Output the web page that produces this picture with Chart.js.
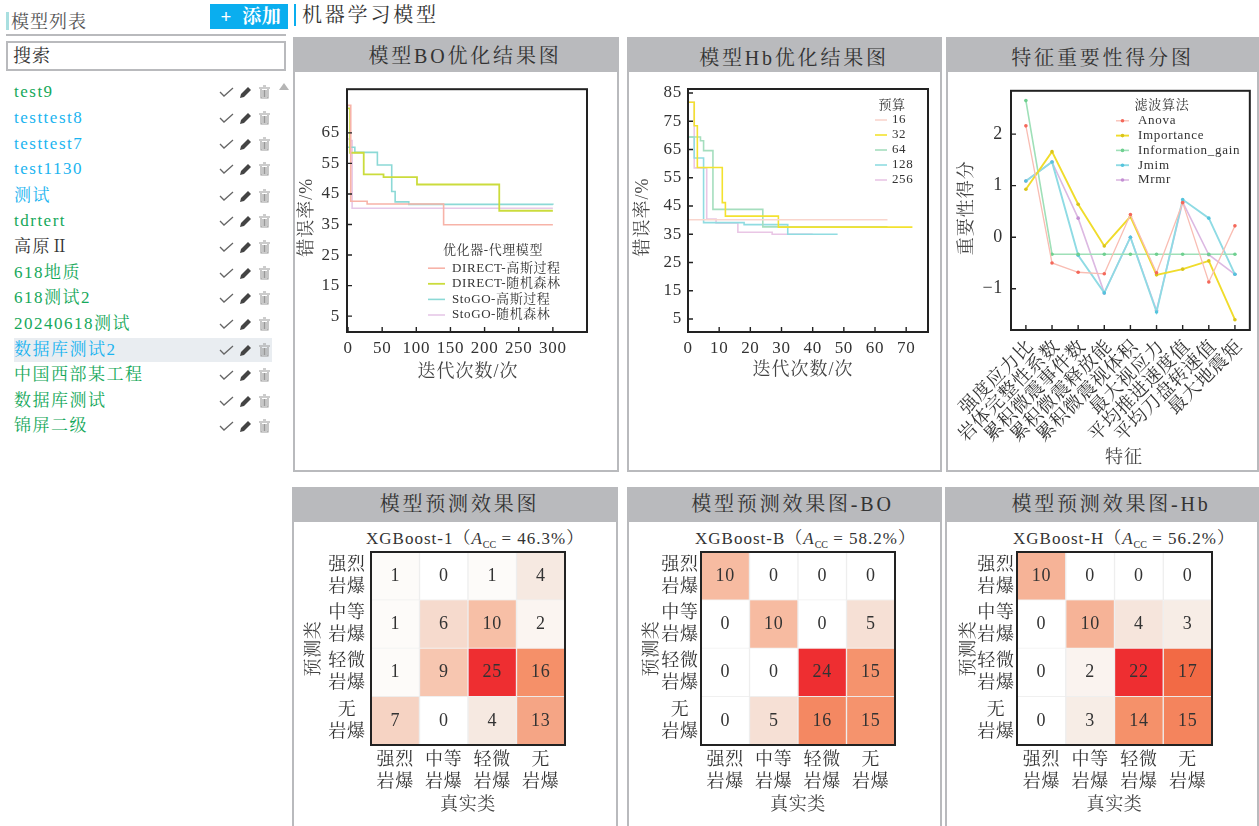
<!DOCTYPE html>
<html>
<head>
<meta charset="utf-8">
<title>机器学习模型</title>
<script src="https://cdn.jsdelivr.net/npm/chart.js@4"></script>
<style>
html,body{margin:0;padding:0;background:#fff;overflow:hidden}
body{width:1259px;height:826px;position:relative;font-family:"Liberation Serif","Noto Serif CJK SC","Noto Sans CJK SC",serif;color:#333}
.abs{position:absolute}
canvas{position:absolute;display:block}
.panel{position:absolute;box-sizing:border-box;border:2px solid #b9babd;background:#fff}
.panel .head{position:absolute;left:0;right:0;top:0;height:33px;background:#b9babd;text-align:center;font-size:20px;line-height:35px;letter-spacing:2.8px;color:#333}
.row{position:absolute;left:14px;width:258px;height:24px;font-size:17px;line-height:24px;letter-spacing:1.5px}
.row svg{position:absolute;top:5px}
.cm{position:absolute;text-align:center;font-size:17px;letter-spacing:1px;line-height:20px;white-space:nowrap}
.cm i{font-style:italic}
.cm sub{font-size:10px;line-height:0;letter-spacing:0}
</style>
</head>
<body>

<div class="abs" style="left:6px;top:12px;width:3px;height:18px;background:#a9dfe0"></div>
<div class="abs" style="left:11px;top:10px;font-size:18px;line-height:24px;letter-spacing:1px;color:#555">模型列表</div>
<div class="abs" style="left:6px;top:34px;width:280px;height:2px;background:#b9babd"></div>
<div class="abs" style="left:210px;top:4px;width:78px;height:25px;background:#0aaeef;color:#fff;font-size:19px;line-height:25px;font-weight:bold;white-space:pre;letter-spacing:.5px">  +  添加</div>
<div class="abs" style="left:294px;top:4px;width:2px;height:22px;background:#0aaeef"></div>
<div class="abs" style="left:302px;top:2px;font-size:20px;line-height:26px;letter-spacing:2.8px">机器学习模型</div>
<div class="abs" style="left:6px;top:41px;width:271px;height:26px;border:2px solid #b9babd;font-size:18px;line-height:27px;padding-left:5px;letter-spacing:1px">搜索</div>
<div id="list"></div>
<div class="abs" style="left:279px;top:83px;width:0;height:0;border-left:5px solid transparent;border-right:5px solid transparent;border-bottom:7px solid #b5b5b5"></div>

<div class="panel" style="left:293px;top:37px;width:326px;height:435px"><div class="head" style="text-indent:18px">模型BO优化结果图</div></div>
<div class="panel" style="left:627px;top:37px;width:315px;height:435px"><div class="head" style="text-indent:19px;line-height:38px">模型Hb优化结果图</div></div>
<div class="panel" style="left:946px;top:37px;width:313px;height:435px"><div class="head" style="line-height:38px">特征重要性得分图</div></div>
<div class="panel" style="left:292px;top:487px;width:326px;height:345px"><div class="head" style="text-indent:9px;line-height:31px">模型预测效果图</div></div>
<div class="panel" style="left:627px;top:487px;width:315px;height:345px"><div class="head" style="text-indent:16px;line-height:31px">模型预测效果图-BO</div></div>
<div class="panel" style="left:945px;top:487px;width:314px;height:345px"><div class="head" style="text-indent:18px;line-height:31px">模型预测效果图-Hb</div></div>

<div class="cm" style="left:366px;top:529px;width:206px">XGBoost-1（<i>A</i><sub>CC</sub> = 46.3%）</div>
<div class="cm" style="left:695px;top:529px;width:210px">XGBoost-B（<i>A</i><sub>CC</sub> = 58.2%）</div>
<div class="cm" style="left:1013px;top:529px;width:212px">XGBoost-H（<i>A</i><sub>CC</sub> = 56.2%）</div>

<canvas id="boChart" style="left:295px;top:72px" width="322" height="398"></canvas>
<canvas id="hbChart" style="left:630px;top:72px" width="310" height="398"></canvas>
<canvas id="featChart" style="left:950px;top:72px" width="307" height="398"></canvas>
<canvas id="cmBase" style="left:295px;top:522px" width="322" height="304"></canvas>
<canvas id="cmBo" style="left:629px;top:522px" width="312" height="304"></canvas>
<canvas id="cmHb" style="left:947px;top:522px" width="311" height="304"></canvas>

<script>
// sidebar
var modelNames = ["test9","testtest8","testtest7","test1130","测试","tdrtert","高原Ⅱ","618地质","618测试2","20240618测试","数据库测试2","中国西部某工程","数据库测试","锦屏二级"];
var modelState = ["g","b","b","b","b","g","k","g","g","g","b","g","g","g"];

// BO chart
var boXTicks = [0,50,100,150,200,250,300];
var boYTicks = [5,15,25,35,45,55,65];
var boDirectGp = [[0,74],[4,42.6],[28,41.7],[140,34.9],[300,34.9]];
var boDirectRf = [[0,73],[3,58.5],[23,51.4],[52,50.5],[101,48.1],[221.5,39.5],[300,39.5]];
var boStogoGp = [[0,60.3],[10,58.6],[43,54.5],[64,45.8],[69,42.4],[89,41.6],[300,41.5]];
var boStogoRf = [[0,63],[3,62.5],[6,40.3],[300,40.3]];

// Hb chart
var hbXTicks = [0,10,20,30,40,50,60,70];
var hbYTicks = [5,15,25,35,45,55,65,75,85];
var hb16 = [[0,40.1],[64,40.1]];
var hb32 = [[0,81.7],[2,73.4],[3,58.6],[11,46.2],[12,41.4],[29,37.5],[72,37.5]];
var hb64 = [[0,69.4],[4,68.1],[5,64.6],[8,43.8],[24,37.6],[64,37.6]];
var hb128 = [[0,69.4],[2,62],[5,39.1],[18,38.4],[32,35],[48,35]];
var hb256 = [[0,81.7],[2,58.5],[6,40.4],[9,39],[16,35.7],[27,35],[40,35]];

// feature importance
var featNames = ["强度应力比","岩体完整性系数","累积微震事件数","累积微震释放能","累积微震视体积","最大视应力","平均推进速度值","平均刀盘转速值","最大地震矩"];
var featXTicks = [0,1,2,3,4,5,6,7,8];
var featYTicks = [-1,0,1,2];
var anova = [2.16,-0.5,-0.68,-0.71,0.44,-0.69,0.67,-0.87,0.22];
var importance = [0.93,1.66,0.64,-0.17,0.4,-0.73,-0.62,-0.46,-1.6];
var infoGain = [2.65,-0.33,-0.33,-0.33,-0.33,-0.33,-0.33,-0.33,-0.33];
var jmim = [1.09,1.46,-0.35,-1.08,0,-1.45,0.73,0.37,-0.72];
var mrmr = [1.09,1.46,0.37,-1.08,0,-1.42,0.68,-0.34,-0.72];

// confusion matrices
var rockLabels = [["强烈","岩爆"],["中等","岩爆"],["轻微","岩爆"],["无","岩爆"]];
var cmBaseVals = [[1,0,1,4],[1,6,10,2],[1,9,25,16],[7,0,4,13]];
var cmBoVals = [[10,0,0,0],[0,10,0,5],[0,0,24,15],[0,5,16,15]];
var cmHbVals = [[10,0,0,0],[0,10,4,3],[0,2,22,17],[0,3,14,15]];

var FONT = '"Liberation Serif","Noto Serif CJK SC","Noto Sans CJK SC",serif';
var INK = "#333";
var stops = [[0,"#ffffff"],[0.04,"#fdfbf9"],[0.16,"#f6e9e1"],[0.28,"#f6d3c3"],[0.4,"#f7bfa6"],[0.52,"#f5a585"],[0.64,"#f59069"],[0.77,"#f26b45"],[1,"#ee2e31"]];

function hex(c,i){ return parseInt(c.substr(i,2),16); }
function heatColor(t){
  for(var i=1;i<stops.length;i++){
    if(t<=stops[i][0]){
      var a=stops[i-1], b=stops[i], f=(t-a[0])/(b[0]-a[0]);
      var ch=[1,3,5].map(function(k){ return Math.round(hex(a[1],k)+(hex(b[1],k)-hex(a[1],k))*f); });
      return "rgb("+ch.join(",")+")";
    }
  }
  return stops[stops.length-1][1];
}

// box round the plot, ticks pointing inward, and axis titles placed by hand
var framePlugin = {
  id:"frame",
  beforeDraw:function(chart){
    chart.ctx.letterSpacing="0.7px";
  },
  afterDatasetsDraw:function(chart){
    var c=chart.ctx, a=chart.chartArea, o=chart.options.plugins.frame;
    c.save();
    c.strokeStyle="#222"; c.lineWidth=2;
    c.strokeRect(a.left,a.top,a.right-a.left,a.bottom-a.top);
    if(!o.noTicks){
      c.lineWidth=1.4;
      c.beginPath();
      chart.scales.x.ticks.forEach(function(t,i){
        var x=chart.scales.x.getPixelForTick(i);
        c.moveTo(x,a.bottom); c.lineTo(x,a.bottom-5);
      });
      chart.scales.y.ticks.forEach(function(t,i){
        var y=chart.scales.y.getPixelForTick(i);
        c.moveTo(a.left,y); c.lineTo(a.left+5,y);
      });
      c.stroke();
    }
    (o.titles||[]).forEach(function(t){
      c.save();
      c.font="18px "+FONT; c.letterSpacing="1px"; c.fillStyle="#444";
      c.textAlign="center"; c.textBaseline="middle";
      c.translate(a.left+t.x,a.top+t.y);
      if(t.up) c.rotate(-Math.PI/2);
      c.fillText(t.text,0,0);
      c.restore();
    });
    c.restore();
  }
};

// legend sits inside the plot
var insideLegend = {
  id:"insideLegend",
  afterDatasetsDraw:function(chart){
    var o=chart.options.plugins.insideLegend;
    if(!o || !o.title) return;
    var c=chart.ctx, a=chart.chartArea;
    c.save();
    c.font="13px "+FONT;
    c.letterSpacing=o.spacing+"px";
    c.fillStyle=INK;
    c.textBaseline="middle";
    c.textAlign="center";
    c.fillText(o.title,a.left+o.titleX,a.top+o.titleY);
    c.textAlign="left";
    chart.data.datasets.forEach(function(d,i){
      var y=a.top+o.rowY+i*o.rowGap;
      c.strokeStyle=d.borderColor; c.lineWidth=d.borderWidth;
      c.beginPath(); c.moveTo(a.left+o.lineX,y); c.lineTo(a.left+o.lineX+o.lineW,y); c.stroke();
      if(o.dots){
        c.fillStyle=d.pointBackgroundColor;
        c.beginPath(); c.arc(a.left+o.lineX+o.lineW/2,y,1.8,0,Math.PI*2); c.fill();
      }
      c.fillStyle=INK;
      c.fillText(d.label,a.left+o.textX,y);
    });
    c.restore();
  }
};

// numbers inside the heat cells
var cellValues = {
  id:"cellValues",
  afterDatasetsDraw:function(chart){
    var vals=chart.options.plugins.cellValues.vals;
    if(!vals) return;
    var c=chart.ctx;
    c.save();
    c.font="18px "+FONT; c.fillStyle=INK;
    c.textAlign="center"; c.textBaseline="middle";
    chart.data.datasets.forEach(function(d,r){
      chart.getDatasetMeta(r).data.forEach(function(bar,k){
        var p=bar.getCenterPoint();
        c.fillText(String(vals[r][k]),p.x,p.y);
      });
    });
    c.restore();
  }
};

Chart.register(framePlugin,insideLegend,cellValues);
Chart.defaults.animation=false;
Chart.defaults.responsive=false;
Chart.defaults.events=[];
Chart.defaults.color=INK;
Chart.defaults.font.family=FONT;

function setTicks(list){
  return function(scale){ scale.ticks=list.map(function(v){ return {value:v}; }); };
}
function fixW(w){ return function(s){ s.width=w; }; }
function fixH(h){ return function(s){ s.height=h; }; }
function stepSet(label,data,color,w){
  return {label:label,data:data,borderColor:color,borderWidth:w||1.6,stepped:true,pointRadius:0,fill:false};
}
var noGrid={display:false,drawTicks:false};

function stepOptions(cfg){
  return {
    layout:{padding:cfg.pad},
    plugins:{legend:{display:false},tooltip:{enabled:false},frame:{titles:cfg.titles},insideLegend:cfg.legend,cellValues:{}},
    scales:{
      x:{type:"linear",min:cfg.xMin,max:cfg.xMax,afterFit:fixH(50),afterBuildTicks:setTicks(cfg.xTicks),
        grid:noGrid,border:{display:false},
        ticks:{autoSkip:false,maxRotation:0,padding:6,font:{size:17}}},
      y:{type:"linear",min:cfg.yMin,max:cfg.yMax,afterFit:fixW(cfg.yW),afterBuildTicks:setTicks(cfg.yTicks),
        grid:noGrid,border:{display:false},
        ticks:{autoSkip:false,padding:cfg.tickPad,font:{size:17}}}
    }
  };
}

new Chart(document.getElementById("boChart"),{
  type:"line",
  data:{datasets:[
    stepSet("DIRECT-高斯过程",boDirectGp,"#f7b3a8"),
    stepSet("DIRECT-随机森林",boDirectRf,"#cbdc3c",1.8),
    stepSet("StoGO-高斯过程",boStogoGp,"#8cd9d6"),
    stepSet("StoGO-随机森林",boStogoRf,"#e6c8e8")
  ]},
  options:stepOptions({
    pad:{left:0,right:30,top:16,bottom:88},
    xMin:-1.5,xMax:350,xTicks:boXTicks,yMin:-0.2,yMax:79.3,yTicks:boYTicks,yW:52,tickPad:7,
    titles:[{text:"错误率/%",x:-40,y:128,up:true},{text:"迭代次数/次",x:121,y:283}],
    legend:{title:"优化器-代理模型",spacing:0.6,titleX:146,titleY:161,rowY:179,rowGap:15.6,lineX:81,lineW:17,textX:105}
  })
});

new Chart(document.getElementById("hbChart"),{
  type:"line",
  data:{datasets:[
    stepSet("16",hb16,"#f9d5cd"),
    stepSet("32",hb32,"#f3e22f"),
    stepSet("64",hb64,"#a5debe"),
    stepSet("128",hb128,"#90dce1"),
    stepSet("256",hb256,"#e9c6e5")
  ]},
  options:stepOptions({
    pad:{left:0,right:12,top:17,bottom:88},
    xMin:0,xMax:77,xTicks:hbXTicks,yMin:0.4,yMax:86.4,yTicks:hbYTicks,yW:58,tickPad:6,
    titles:[{text:"错误率/%",x:-45,y:128,up:true},{text:"迭代次数/次",x:115,y:281}],
    legend:{title:"预算",spacing:0.6,titleX:204,titleY:17,rowY:31,rowGap:15,lineX:187,lineW:12,textX:204}
  })
});

function featSet(label,vals,line,dot,w){
  return {label:label,data:vals.map(function(v,i){ return [i,v]; }),borderColor:line,borderWidth:w,pointRadius:1.8,pointBackgroundColor:dot,pointBorderWidth:0,tension:0,fill:false};
}
new Chart(document.getElementById("featChart"),{
  type:"line",
  data:{datasets:[
    featSet("Anova",anova,"#f9bdb3","#f4685a",1.3),
    featSet("Importance",importance,"#f0dc2c","#d9c41a",1.9),
    featSet("Information_gain",infoGain,"#9fe0b8","#6fd090",1.6),
    featSet("Jmim",jmim,"#8fdbe4","#55c4dd",1.9),
    featSet("Mrmr",mrmr,"#dcb9e2","#c48fd4",1.6)
  ]},
  options:{
    layout:{padding:{left:0,right:6,top:17,bottom:3}},
    plugins:{legend:{display:false},tooltip:{enabled:false},cellValues:{},
      frame:{titles:[{text:"重要性得分",x:-44,y:117,up:true},{text:"特征",x:113,y:367}]},
      insideLegend:{title:"滤波算法",spacing:0.7,titleX:151,titleY:15,rowY:30,rowGap:14.8,lineX:105,lineW:13,textX:127,dots:true}},
    scales:{
      x:{type:"linear",min:-0.57,max:8.57,afterFit:fixH(137),afterBuildTicks:setTicks(featXTicks),
        grid:noGrid,border:{display:false},
        ticks:{autoSkip:false,minRotation:45,maxRotation:45,padding:6,labelOffset:5,font:{size:18.5},
          callback:function(v){ return featNames[v]; }}},
      y:{type:"linear",min:-1.8,max:2.84,afterFit:fixW(61),afterBuildTicks:setTicks(featYTicks),
        grid:noGrid,border:{display:false},
        ticks:{autoSkip:false,padding:8,font:{size:18},callback:function(v){ return v<0?"−"+Math.abs(v):String(v); }}}
    }
  }
});

function heatmap(id,vals,yW,rightPad,titlePad,tickPad){
  var top=Math.max.apply(null,vals.map(function(r){ return Math.max.apply(null,r); }));
  new Chart(document.getElementById(id),{
    type:"bar",
    data:{
      labels:rockLabels,
      datasets:vals.map(function(row){
        return {
          data:row.map(function(){ return 1; }),
          backgroundColor:row.map(function(v){ return heatColor(v/top); }),
          borderColor:"rgba(225,225,225,0.5)",borderWidth:1,
          barPercentage:1,categoryPercentage:1
        };
      })
    },
    options:{
      layout:{padding:{left:0,right:rightPad,top:30,bottom:10}},
      plugins:{legend:{display:false},tooltip:{enabled:false},frame:{noTicks:true},insideLegend:{},cellValues:{vals:vals}},
      scales:{
        x:{stacked:true,afterFit:fixH(71),grid:noGrid,border:{display:false},
          ticks:{autoSkip:false,maxRotation:0,padding:4,font:{size:18,lineHeight:1.22}},
          title:{display:true,text:"真实类",font:{size:18},padding:0,color:"#444"}},
        y:{type:"linear",stacked:true,reverse:true,min:0,max:4,afterFit:fixW(yW),
          afterBuildTicks:setTicks([0.5,1.5,2.5,3.5]),
          grid:noGrid,border:{display:false},
          ticks:{autoSkip:false,crossAlign:"center",padding:tickPad,font:{size:18,lineHeight:1.22},
            callback:function(v){ return rockLabels[Math.floor(v)]; }},
          title:{display:true,text:"预测类",font:{size:18},padding:{top:titlePad,bottom:0},color:"#444"}}
      }
    }
  });
}
heatmap("cmBase",cmBaseVals,76,52,8,6);
heatmap("cmBo",cmBoVals,72,46,12,3);
heatmap("cmHb",cmHbVals,70,46,11,3);

// sidebar rows
var rowTops=[80,106,132,157,184,209,235,261,286,312,338,363,389,414];
var colors={g:"#15a85a",b:"#1ab4f0",k:"#333"};
var iconCheck='<svg style="left:205px" width="15" height="14" viewBox="0 0 15 14"><path d="M1 7l4 4 9-8" fill="none" stroke="#666" stroke-width="1.3"/></svg>';
var iconPen='<svg style="left:225px" width="13" height="14" viewBox="0 0 13 14"><path d="M1 13l1-4 7-7 3 3-7 7z" fill="#444"/></svg>';
var iconBin='<svg style="left:244px" width="13" height="14" viewBox="0 0 13 14"><path d="M1 3h11M5 1h3M3 4v9h7V4M5 5v7M6.5 5v7M8 5v7" fill="none" stroke="#999" stroke-width="1.1"/></svg>';
var html="";
modelNames.forEach(function(n,i){
  var sel=n==="数据库测试2"?"background:#e9edf1;":"";
  html+='<div class="row" style="top:'+rowTops[i]+'px;color:'+colors[modelState[i]]+';'+sel+'">'+n+iconCheck+iconPen+iconBin+'</div>';
});
document.getElementById("list").innerHTML=html;
</script>
</body>
</html>
